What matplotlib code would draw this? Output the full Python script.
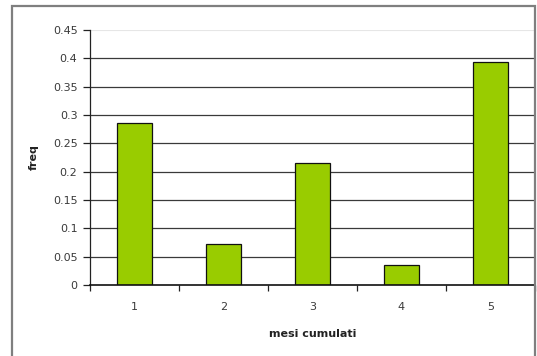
import numpy as np
from matplotlib import pyplot as plt
from matplotlib.patches import Rectangle

plt.rcParams["font.family"] = ["DejaVu Sans"]

mesi = [1, 2, 3, 4, 5]
freq = [0.286, 0.072, 0.215, 0.035, 0.393]
yticks = [0, 0.05, 0.1, 0.15, 0.2, 0.25, 0.3, 0.35, 0.4, 0.45]
ylabels = ["0", "0.05", "0.1", "0.15", "0.2", "0.25", "0.3", "0.35", "0.4", "0.45"]


def main():
    W, H = 537, 356
    fig = plt.figure(figsize=(W / 100, H / 100), dpi=100)

    # grey frame around the chart area
    fig.patches.append(Rectangle((12 / W, -0.1), (535 - 12) / W, 1.1 - 6 / H,
                                 transform=fig.transFigure, fill=False,
                                 edgecolor="#7f7f7f", linewidth=1.6))

    ax = fig.add_axes([90 / W, 71 / H, (535 - 90) / W, 255 / H])
    for y in yticks[1:-1]:
        ax.axhline(y, color="#3a3a3a", linewidth=0.9, zorder=1)
    ax.axhline(yticks[-1], color="#e6e6e6", linewidth=0.8, zorder=1)

    ax.bar(mesi, freq, width=0.39, color="#99cc00", edgecolor="#111111",
           linewidth=0.9, zorder=2)

    ax.set_xlim(0.5, 5.5)
    ax.set_ylim(0, 0.45)
    ax.set_yticks(yticks)
    ax.set_yticklabels(ylabels)
    ax.set_xticks(mesi)
    ax.set_xticks(np.arange(0.5, 6, 1), minor=True)
    ax.tick_params(axis="x", which="major", length=0, pad=12.5,
                   labelsize=8, labelcolor="#3a3a3a")
    ax.tick_params(axis="x", which="minor", length=4, width=0.9,
                   color="#222222", direction="out")
    ax.tick_params(axis="y", length=5, width=0.9, pad=4,
                   labelsize=8, labelcolor="#3a3a3a", color="#222222")

    for side in ["top", "right"]:
        ax.spines[side].set_visible(False)
    ax.spines["left"].set_color("#222222")
    ax.spines["bottom"].set_color("#111111")
    ax.spines["left"].set_linewidth(0.9)
    ax.spines["bottom"].set_linewidth(1.2)

    ax.set_xlabel("mesi cumulati", fontsize=8, fontweight="bold", labelpad=12,
                  color="#222222")
    ax.set_ylabel("freq", fontsize=8, fontweight="bold", labelpad=10,
                  color="#222222")

    fig.savefig("out.png", dpi=100)


if __name__ == "__main__":
    main()
